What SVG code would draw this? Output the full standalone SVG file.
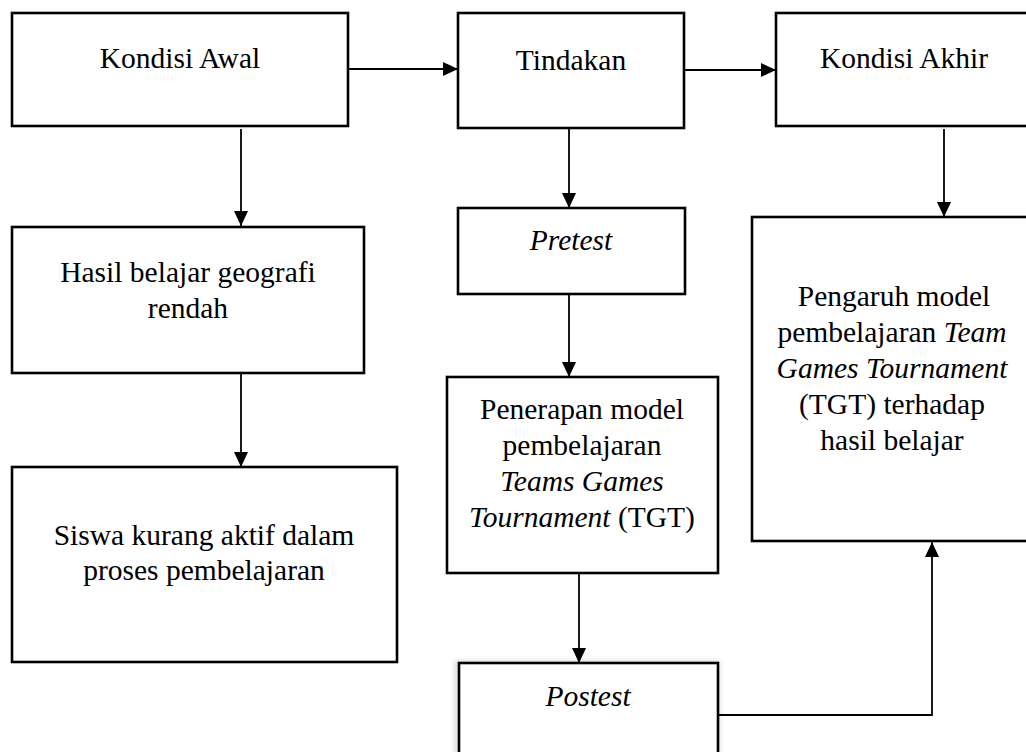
<svg xmlns="http://www.w3.org/2000/svg" width="1026" height="752" viewBox="0 0 1026 752">
<style>
.box{fill:#fff;stroke:#000;stroke-width:2.6}
.t{font-family:"Liberation Serif","Times New Roman",serif;font-size:29.5px;fill:#000;text-anchor:middle}
.i{font-style:italic}
.c{fill:none;stroke:#000;stroke-width:1.8;marker-end:url(#ah)}
</style>
<defs>
<marker id="ah" markerUnits="userSpaceOnUse" markerWidth="16" markerHeight="16" refX="15" refY="7" orient="auto">
<path d="M0,0 L15,7 L0,14 z" fill="#000"/>
</marker>
<filter id="sh" x="-10%" y="-10%" width="120%" height="120%">
<feGaussianBlur stdDeviation="2.5"/>
</filter>
</defs>
<rect width="1026" height="752" fill="#fff"/>
<g id="connectors">
<path class="c" d="M348,69 H458"/>
<path class="c" d="M684,70 H776"/>
<path class="c" d="M241,129 V226"/>
<path class="c" d="M241,374 V467"/>
<path class="c" d="M569,129 V208"/>
<path class="c" d="M569,295 V377"/>
<path class="c" d="M579,574 V663"/>
<path class="c" d="M944,129 V217"/>
<path class="c" d="M718,715 H932 V542"/>
</g>
<g id="kondisi-awal">
<rect class="box" x="12" y="13" width="336" height="113"/>
<text class="t" x="180" y="68">Kondisi Awal</text>
</g>
<g id="tindakan">
<rect class="box" x="458" y="13" width="226" height="115"/>
<text class="t" x="571" y="70">Tindakan</text>
</g>
<g id="kondisi-akhir">
<rect class="box" x="776" y="13" width="260" height="113"/>
<text class="t" x="904" y="68">Kondisi Akhir</text>
</g>
<g id="hasil">
<rect class="box" x="12" y="227" width="352" height="146"/>
<text class="t" x="188" y="282">Hasil belajar geografi</text>
<text class="t" x="188" y="318">rendah</text>
</g>
<g id="siswa">
<rect class="box" x="12" y="467" width="385" height="195"/>
<text class="t" x="204" y="545">Siswa kurang aktif dalam</text>
<text class="t" x="204" y="580">proses pembelajaran</text>
</g>
<g id="pretest">
<rect class="box" x="458" y="208" width="227" height="86"/>
<text class="t i" x="571" y="250">Pretest</text>
</g>
<g id="penerapan">
<rect class="box" x="447" y="377" width="271" height="196"/>
<text class="t" x="582" y="419">Penerapan model</text>
<text class="t" x="582" y="455">pembelajaran</text>
<text class="t i" x="582" y="491">Teams Games</text>
<text class="t" x="582" y="527"><tspan class="i">Tournament</tspan> (TGT)</text>
</g>
<g id="postest">
<rect x="454" y="660" width="266" height="100" fill="#000" opacity="0.12" filter="url(#sh)"/>
<rect class="box" x="459" y="663" width="259" height="95"/>
<text class="t i" x="588" y="706">Postest</text>
</g>
<g id="pengaruh">
<rect class="box" x="752" y="217" width="290" height="324"/>
<text class="t" x="894" y="306">Pengaruh model</text>
<text class="t" x="892" y="342">pembelajaran <tspan class="i">Team</tspan></text>
<text class="t i" x="892" y="378">Games Tournament</text>
<text class="t" x="892" y="414">(TGT) terhadap</text>
<text class="t" x="892" y="450">hasil belajar</text>
</g>
</svg>
